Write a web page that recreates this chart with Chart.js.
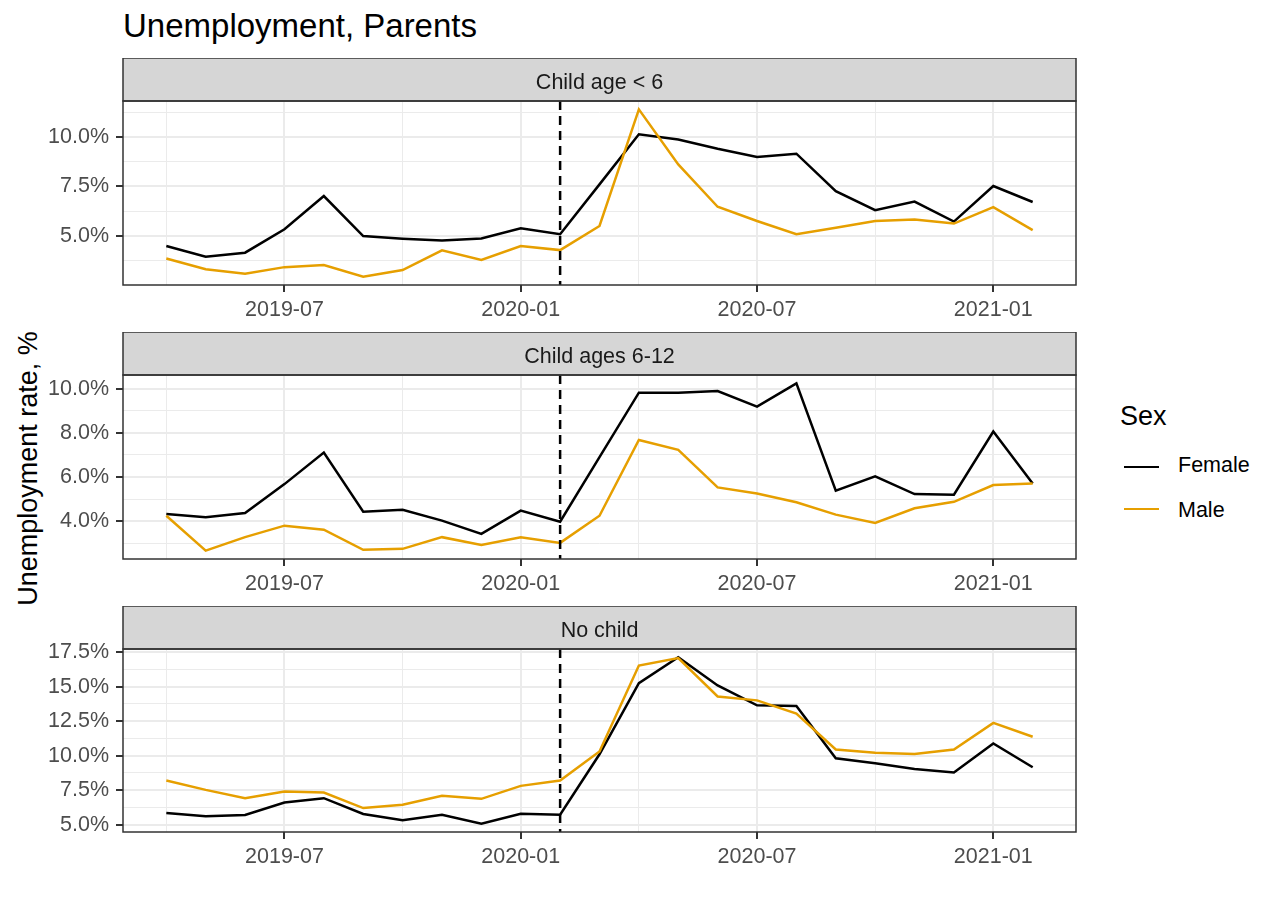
<!DOCTYPE html>
<html lang="en">
<head>
  <meta charset="UTF-8" />
  <title>Unemployment, Parents</title>
  <script src="https://cdn.jsdelivr.net/npm/chart.js"></script>
  <style>
    body {
      margin: 0;
      background: #fff;
      font-family: "Liberation Sans", Arial, sans-serif;
    }
    #page {
      position: relative;
      width: 1280px;
      height: 914px;
      overflow: hidden;
    }
    .panel {
      position: absolute;
      left: 0;
    }
    #title {
      position: absolute;
      left: 123px;
      top: 9px;
      font-size: 33px;
      line-height: 33px;
      color: #000;
      white-space: nowrap;
    }
    /* rotated y axis title */
    #ylab {
      position: absolute;
      left: -172px;
      top: 455px;
      width: 400px;
      height: 27px;
      font-size: 27px;
      line-height: 27px;
      text-align: center;
      transform: rotate(-90deg);
      white-space: nowrap;
    }
    .leg-title {
      position: absolute;
      left: 1120px;
      top: 403px;
      font-size: 27px;
      line-height: 27px;
    }
    .leg-key {
      position: absolute;
      left: 1124px;
      width: 35px;
      height: 0;
      border-top: 2.5px solid #000;
    }
    .leg-label {
      position: absolute;
      left: 1178px;
      font-size: 21.5px;
      line-height: 21.5px;
      color: #000;
    }
  </style>
</head>
<body>
<div id="page">
  <div id="title">Unemployment, Parents</div>
  <div id="ylab">Unemployment rate, %</div>

  <canvas class="panel" id="panel1" width="1080" height="274" style="top:58px"></canvas>
  <canvas class="panel" id="panel2" width="1080" height="274" style="top:332px"></canvas>
  <canvas class="panel" id="panel3" width="1080" height="273" style="top:606px"></canvas>

  <div class="leg-title">Sex</div>
  <div class="leg-key" style="top:466px"></div>
  <div class="leg-label" style="top:455px">Female</div>
  <div class="leg-key" style="top:508px; border-top-color:#E69F00"></div>
  <div class="leg-label" style="top:500px">Male</div>
</div>

<script>
  // ==== DATA ====
  const months = [
    '2019-04', '2019-05', '2019-06', '2019-07', '2019-08', '2019-09', '2019-10', '2019-11',
    '2019-12', '2020-01', '2020-02', '2020-03', '2020-04', '2020-05', '2020-06', '2020-07',
    '2020-08', '2020-09', '2020-10', '2020-11', '2020-12', '2021-01', '2021-02'
  ];
  const xTickLabels = ['2019-07', '2020-01', '2020-07', '2021-01'];
  const xMinorLabels = ['2019-04', '2019-10', '2020-04', '2020-10'];
  const markerMonth = '2020-02';

  const panelNames = ['Child age < 6', 'Child ages 6-12', 'No child'];
  const seriesNames = ['Female', 'Male'];

  // unemployment rate, %
  const under6Female = [4.49, 3.95, 4.15, 5.33, 7.01, 4.99, 4.86, 4.77, 4.87, 5.38, 5.08, 7.6,
                        10.13, 9.87, 9.40, 8.98, 9.15, 7.26, 6.30, 6.73, 5.72, 7.52, 6.71];
  const under6Male   = [3.86, 3.31, 3.09, 3.42, 3.53, 2.94, 3.27, 4.27, 3.78, 4.49, 4.28, 5.50,
                        11.39, 8.61, 6.47, 5.75, 5.08, 5.41, 5.75, 5.83, 5.62, 6.45, 5.29];

  const age6to12Female = [4.33, 4.18, 4.37, 5.68, 7.11, 4.43, 4.52, 4.03, 3.43, 4.48, 3.98, 6.9,
                          9.82, 9.82, 9.89, 9.19, 10.24, 5.38, 6.03, 5.23, 5.20, 8.06, 5.71];
  const age6to12Male   = [4.25, 2.67, 3.28, 3.80, 3.62, 2.71, 2.75, 3.28, 2.93, 3.28, 3.02, 4.25,
                          7.68, 7.23, 5.53, 5.26, 4.86, 4.30, 3.92, 4.59, 4.88, 5.64, 5.71];

  const noChildFemale = [5.84, 5.61, 5.70, 6.61, 6.92, 5.77, 5.32, 5.72, 5.07, 5.79, 5.72, 10.1,
                         15.26, 17.13, 15.09, 13.65, 13.60, 9.81, 9.45, 9.03, 8.78, 10.89, 9.16];
  const noChildMale   = [8.20, 7.52, 6.92, 7.40, 7.33, 6.20, 6.44, 7.09, 6.87, 7.81, 8.20, 10.3,
                         16.53, 17.08, 14.29, 14.01, 13.05, 10.45, 10.22, 10.12, 10.45, 12.38, 11.37];

  const yTicksUnder6 = [5, 7.5, 10];
  const yTicksAge6to12 = [4, 6, 8, 10];
  const yTicksNoChild = [5, 7.5, 10, 12.5, 15, 17.5];

  // ==== STYLE ====
  const FONT = '"Liberation Sans", Arial, sans-serif';
  const FEMALE_COLOR = '#000000';
  const MALE_COLOR = '#E69F00';
  const GRID = '#EBEBEB';
  const DARK = '#333333';
  const STRIP_H = 43;

  Chart.defaults.font.family = FONT;

  // strip header, panel border and the dashed marker line
  const facetPlugin = {
    id: 'facet',
    afterDatasetsDraw(chart, args, opts) {
      const { ctx, chartArea } = chart;
      const x = chart.scales.x.getPixelForValue(months.indexOf(markerMonth));
      ctx.save();
      ctx.strokeStyle = '#000';
      ctx.lineWidth = 2.5;
      ctx.setLineDash([9, 6]);
      ctx.beginPath();
      ctx.moveTo(x, chartArea.top);
      ctx.lineTo(x, chartArea.bottom);
      ctx.stroke();
      ctx.restore();
    },
    afterDraw(chart, args, opts) {
      const { ctx, chartArea } = chart;
      const w = chartArea.right - chartArea.left;
      ctx.save();
      // strip
      ctx.fillStyle = '#D6D6D6';
      ctx.fillRect(chartArea.left, chartArea.top - STRIP_H, w, STRIP_H);
      ctx.strokeStyle = DARK;
      ctx.lineWidth = 1.5;
      ctx.strokeRect(chartArea.left, chartArea.top - STRIP_H, w, STRIP_H);
      ctx.fillStyle = '#1A1A1A';
      ctx.font = '21.5px ' + FONT;
      ctx.textAlign = 'center';
      ctx.textBaseline = 'alphabetic';
      ctx.fillText(opts.name, chartArea.left + w / 2, chartArea.top - 12.5);
      // panel border
      ctx.lineWidth = 1.5;
      ctx.strokeRect(chartArea.left, chartArea.top, w, chartArea.bottom - chartArea.top);
      ctx.restore();
    }
  };

  function makePanel(canvasId, name, female, male, yTicks) {
    // y range like ggplot: data range expanded by 5%
    const lo = Math.min(...female, ...male);
    const hi = Math.max(...female, ...male);
    const yMin = lo - (hi - lo) * 0.05;
    const yMax = hi + (hi - lo) * 0.05;

    const step = yTicks[1] - yTicks[0];
    const yMinor = [];
    for (let v = yTicks[0] - step / 2; v <= yTicks[yTicks.length - 1] + step / 2 + 1e-9; v += step) {
      if (v >= yMin && v <= yMax) yMinor.push(v);
    }

    const n = months.length;
    const xMin = -(n - 1) * 0.05;
    const xMax = (n - 1) * 1.05;
    const xMajor = xTickLabels.map(m => months.indexOf(m));
    const xMinor = xMinorLabels.map(m => months.indexOf(m));

    const isMajorY = v => yTicks.some(t => Math.abs(t - v) < 1e-6);
    const isMajorX = v => xMajor.includes(v);

    new Chart(document.getElementById(canvasId), {
      type: 'line',
      data: {
        datasets: [
          {
            label: seriesNames[0],
            data: female.map((v, i) => ({ x: i, y: v })),
            borderColor: FEMALE_COLOR,
            borderWidth: 2.5,
            pointRadius: 0,
            tension: 0,
            order: 2
          },
          {
            label: seriesNames[1],
            data: male.map((v, i) => ({ x: i, y: v })),
            borderColor: MALE_COLOR,
            borderWidth: 2.5,
            pointRadius: 0,
            tension: 0,
            order: 1
          }
        ]
      },
      options: {
        responsive: false,
        animation: false,
        events: [],
        layout: { padding: { top: STRIP_H, left: 0, right: 4, bottom: 0 } },
        plugins: {
          legend: { display: false },
          tooltip: { enabled: false },
          facet: { name: name }
        },
        scales: {
          x: {
            type: 'linear',
            min: xMin,
            max: xMax,
            afterBuildTicks: s => {
              s.ticks = [...xMinor, ...xMajor].sort((a, b) => a - b).map(v => ({ value: v }));
            },
            afterFit: s => { s.height = 47; },
            border: { display: false },
            grid: {
              color: GRID,
              lineWidth: c => isMajorX(c.tick.value) ? 2 : 1,
              tickColor: c => isMajorX(c.tick.value) ? DARK : 'rgba(0,0,0,0)',
              tickLength: 7,
              tickWidth: 2
            },
            ticks: {
              autoSkip: false,
              maxRotation: 0,
              padding: 5,
              color: '#4D4D4D',
              font: { size: 21.5 },
              callback: v => isMajorX(v) ? months[v] : ''
            }
          },
          y: {
            type: 'linear',
            min: yMin,
            max: yMax,
            afterBuildTicks: s => {
              s.ticks = [...yMinor, ...yTicks].sort((a, b) => a - b).map(v => ({ value: v }));
            },
            afterFit: s => { s.width = 123; },
            border: { display: false },
            grid: {
              color: GRID,
              lineWidth: c => isMajorY(c.tick.value) ? 2 : 1,
              tickColor: c => isMajorY(c.tick.value) ? DARK : 'rgba(0,0,0,0)',
              tickLength: 7,
              tickWidth: 2
            },
            ticks: {
              autoSkip: false,
              padding: 7,
              color: '#4D4D4D',
              font: { size: 21.5 },
              callback: v => isMajorY(v) ? v.toFixed(1) + '%' : ''
            }
          }
        }
      },
      plugins: [facetPlugin]
    });
  }

  makePanel('panel1', panelNames[0], under6Female, under6Male, yTicksUnder6);
  makePanel('panel2', panelNames[1], age6to12Female, age6to12Male, yTicksAge6to12);
  makePanel('panel3', panelNames[2], noChildFemale, noChildMale, yTicksNoChild);
</script>
</body>
</html>
